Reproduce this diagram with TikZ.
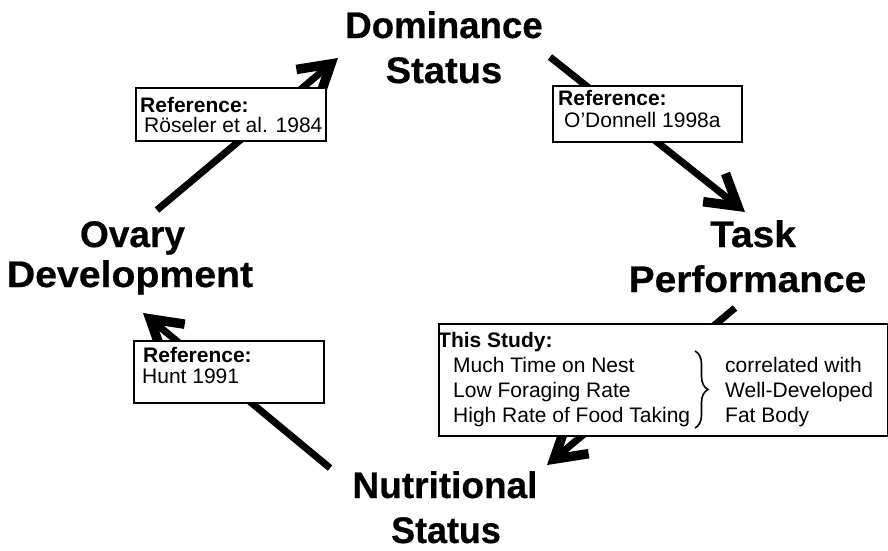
\documentclass[tikz,border=0pt]{standalone}
\usepackage{fontspec}
\setmainfont{Liberation Sans}
\newfontfamily\titlefont[FakeBold=0.6]{Liberation Sans Bold}
\usetikzlibrary{arrows.meta,decorations.pathreplacing}
\tikzset{
  title/.style={anchor=base, inner sep=0pt, font=\fontsize{37}{42}\selectfont\titlefont},
  bigarrow/.style={line width=7pt, line cap=butt, -{Straight Barb[length=30pt,width=36pt,line width=2.5pt 1]}},
  refbox/.style={draw, fill=white, line width=2pt, inner sep=0pt, anchor=north west},
  boxtext/.style={anchor=base west, inner sep=0pt, font=\fontsize{21}{21}\selectfont},
}
\newcommand{\sx}[2]{\scalebox{#1}[1]{#2}}
\begin{document}
\begin{tikzpicture}[x=1pt,y=-1pt]
\path[use as bounding box] (0,0) rectangle (888,550);

% titles
\node[title] (dom1) at (444,38) {\sx{0.99}{Dominance}};
\node[title] (dom2) at (444,83) {\sx{1.03}{Status}};
\node[title] (task1) at (753,247) {\sx{1.05}{Task}};
\node[title] (task2) at (747.5,292) {\sx{1.05}{Performance}};
\node[title] (ova1) at (132.5,247) {\sx{1.0}{Ovary}};
\node[title] (ova2) at (130,287) {\sx{1.06}{Development}};
\node[title] (nut1) at (445,498) {\sx{1.0}{Nutritional}};
\node[title] (nut2) at (446,543) {\sx{0.97}{Status}};

% arrow end points
\coordinate (a1s) at (157,210); \coordinate (a1e) at (338,58);
\coordinate (a2s) at (550,57);  \coordinate (a2e) at (745,212);
\coordinate (a3s) at (735,308); \coordinate (a3e) at (547,465);
\coordinate (a4s) at (330,468); \coordinate (a4e) at (143,313);

\draw[bigarrow] (a1s) -- (a1e);
\draw[bigarrow] (a2s) -- (a2e);
\draw[bigarrow] (a3s) -- (a3e);
\draw[bigarrow] (a4s) -- (a4e);

% reference boxes
\node[refbox, minimum width=190pt, minimum height=53pt] (b1) at (135,87) {};
\node[boxtext] (b1a) at (140,112) {\textbf{Reference:}};
\node[boxtext] (b1b) at (144,132) {Röseler et al. 1984};

\node[refbox, minimum width=189pt, minimum height=56pt] (b2) at (552,85) {};
\node[boxtext] (b2a) at (558,105) {\textbf{Reference:}};
\node[boxtext] (b2b) at (564,127) {O’Donnell 1998a};

\node[refbox, minimum width=190pt, minimum height=62pt] (b4) at (133,340) {};
\node[boxtext] (b4a) at (143,362) {\textbf{Reference:}};
\node[boxtext] (b4b) at (142,383) {Hunt 1991};

% this study box
\node[refbox, minimum width=449pt, minimum height=112pt] (b3) at (437.5,322.5) {};
\node[boxtext] (b3t) at (438,347) {\textbf{This Study:}};
\node[boxtext] (b3l1) at (453,372) {Much Time on Nest};
\node[boxtext] (b3l2) at (453,397) {Low Foraging Rate};
\node[boxtext] (b3l3) at (453,422) {High Rate of Food Taking};
\node[boxtext] (b3r1) at (725,372) {correlated with};
\node[boxtext] (b3r2) at (725,397) {Well-Developed};
\node[boxtext] (b3r3) at (725,422) {Fat Body};
\coordinate (brt) at (695,351);
\coordinate (brb) at (695,428);
\draw[line width=1.6pt, decorate, decoration={brace, amplitude=13pt}] (brt) -- (brb);
\end{tikzpicture}
\end{document}
